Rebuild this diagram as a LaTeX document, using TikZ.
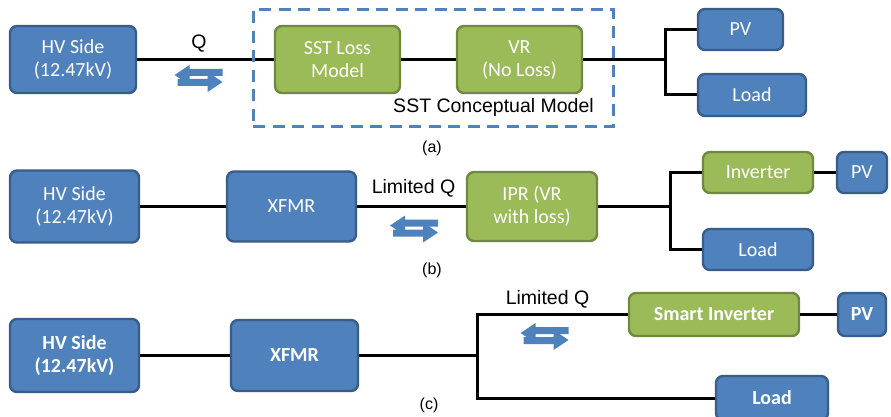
\documentclass[tikz,border=0pt]{standalone}
\usepackage{fontspec}
\setmainfont{Liberation Sans}
\newfontfamily\boxfont{Carlito}
\usetikzlibrary{calc}
\definecolor{bfill}{HTML}{4F81BD}
\definecolor{bedge}{HTML}{385D8A}
\definecolor{gfill}{HTML}{9BBB59}
\definecolor{gedge}{HTML}{71893F}
\definecolor{iconblue}{HTML}{4F81BD}
\tikzset{
  basebox/.style={rounded corners=7pt, line width=2.4pt, text=white, align=center,
    font=\boxfont\fontsize{20}{23}\selectfont, inner sep=0pt},
  bluebox/.style={basebox, fill=bfill, draw=bedge},
  greenbox/.style={basebox, fill=gfill, draw=gedge},
  boldtext/.style={font=\boxfont\bfseries\fontsize{20}{23}\selectfont},
  sz/.style 2 args={minimum width=#1pt, minimum height=#2pt},
  wire/.style={line width=3pt, line join=miter},
  lbl/.style={font=\fontsize{19.5}{22}\selectfont, inner sep=0pt},
  caplbl/.style={font=\fontsize{16}{19}\selectfont, inner sep=0pt},
  swapicon/.pic={
    % upper arrow pointing left
    \fill[iconblue]
      (-9,-13) -- (-24,-3) -- (-9,7) -- (-9,-2) -- (24,-2) -- (24,-9) -- (-9,-9) -- cycle;
    % lower arrow pointing right
    \fill[iconblue]
      (9,-6) -- (24,4) -- (9,14) -- (9,8) -- (-21,8) -- (-21,1) -- (9,1) -- cycle;
  }
}
\begin{document}
\begin{tikzpicture}[x=1pt, y=-1pt]
\useasboundingbox[fill=white] (0,0) rectangle (891,417);

% ---------- (a) SST conceptual model ----------
\node[bluebox, sz={126}{67}] (ahv) at (73,59.5) {HV Side\\(12.47kV)};
\node[greenbox, sz={125}{67}] (asst) at (337.5,59.5) {SST Loss\\Model};
\node[greenbox, sz={125}{67}] (avr) at (519.5,59.5) {VR\\(No Loss)};
\node[bluebox, sz={85}{41}] (apv) at (740.5,29.5) {PV};
\node[bluebox, sz={108}{42}] (aload) at (752,95) {Load};
\coordinate (ja) at (665,59.5);
\draw[wire] (ahv.east) -- (asst.west);
\draw[wire] (asst.east) -- (avr.west);
\draw[wire] (avr.east) -- (ja);
\draw[wire] (apv.west) -| (ja) |- (aload.west);
\node[draw=bfill, line width=3pt, dash pattern=on 12pt off 7.5pt, sz={360}{117}, inner sep=0pt] (aframe) at (433,68.5) {};
\node[lbl] (aq) at (199,44) {Q};
\pic at (198.5,78) {swapicon};
\node[lbl] (aframelbl) at (493.5,107.5) {SST Conceptual Model};
\node[caplbl] (acap) at (432,148) {(a)};

% ---------- (b) XFMR with IPR ----------
\node[bluebox, sz={129}{72}] (bhv) at (74.5,206.5) {HV Side\\(12.47kV)};
\node[bluebox, sz={129}{70}] (bxf) at (291.5,206.5) {XFMR};
\node[greenbox, sz={130}{69}] (bipr) at (532,206.5) {IPR (VR\\with loss)};
\node[greenbox, sz={110}{41}] (binv) at (758,172.5) {Inverter};
\node[bluebox, sz={50}{41}] (bpv) at (862,172.5) {PV};
\node[bluebox, sz={110}{41}] (bload) at (758,249.5) {Load};
\coordinate (jb) at (670,206.5);
\draw[wire] (bhv.east) -- (bxf.west);
\draw[wire] (bxf.east) -- (bipr.west);
\draw[wire] (bipr.east) -- (jb);
\draw[wire] (binv.west) -| (jb) |- (bload.west);
\draw[wire] (binv.east) -- (bpv.west);
\node[lbl] (bq) at (413.5,188) {Limited Q};
\pic at (414,228.5) {swapicon};
\node[caplbl] (bcap) at (432,270) {(b)};

% ---------- (c) XFMR with smart inverter ----------
\node[bluebox, boldtext, sz={129}{73}] (chv) at (74.5,355.5) {HV Side\\(12.47kV)};
\node[bluebox, boldtext, sz={127}{71}] (cxf) at (294.5,355.5) {XFMR};
\node[greenbox, boldtext, sz={170}{43}] (csi) at (714,314.5) {Smart Inverter};
\node[bluebox, boldtext, sz={48}{43}] (cpv) at (862,314.5) {PV};
\node[bluebox, boldtext, sz={112}{44}] (cload) at (772,398) {Load};
\coordinate (jc) at (477,355.5);
\draw[wire] (chv.east) -- (cxf.west);
\draw[wire] (cxf.east) -- (jc);
\draw[wire] (csi.west) -| (jc) |- (cload.west);
\draw[wire] (csi.east) -- (cpv.west);
\node[lbl] (cq) at (547.5,299) {Limited Q};
\pic at (544.5,336) {swapicon};
\node[caplbl] (ccap) at (429,405) {(c)};
\end{tikzpicture}
\end{document}
